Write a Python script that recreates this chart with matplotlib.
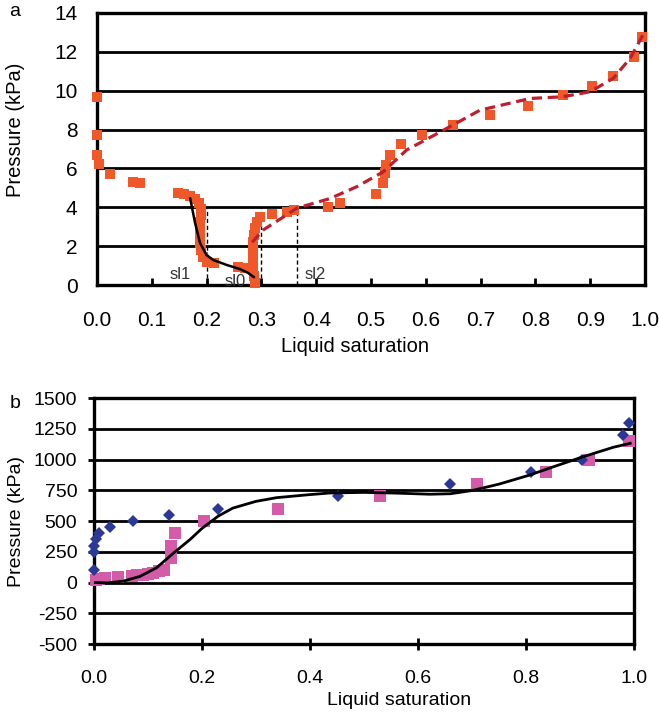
import matplotlib
matplotlib.use("Agg")
import matplotlib.pyplot as plt

plt.rcParams['font.family'] = ['Liberation Sans', 'DejaVu Sans']
plt.rcParams['axes.unicode_minus'] = False

# ---- panel a data ----
a_sat = [0.0, 0.0, 0.0, 0.003, 0.024, 0.066, 0.078,
         0.148, 0.159, 0.170, 0.179, 0.186, 0.190, 0.190, 0.188, 0.188, 0.188,
         0.188, 0.190, 0.193, 0.201, 0.213,
         0.257, 0.270,
         0.288, 0.286, 0.285, 0.285, 0.285, 0.285, 0.285, 0.286, 0.288, 0.292, 0.297,
         0.319, 0.347, 0.360, 0.422, 0.443,
         0.510, 0.522, 0.525, 0.527, 0.535, 0.555, 0.593, 0.650, 0.717, 0.787,
         0.850, 0.903, 0.942, 0.980, 0.995]
a_press = [9.7, 7.7, 6.7, 6.25, 5.7, 5.3, 5.23,
           4.73, 4.68, 4.58, 4.43, 4.22, 3.91, 3.60, 3.24, 2.88, 2.52,
           2.16, 1.80, 1.44, 1.18, 1.13,
           0.93, 0.87,
           0.10, 0.46, 0.77, 1.13, 1.49, 1.85, 2.21, 2.57, 2.93, 3.24, 3.50,
           3.65, 3.75, 3.85, 4.0, 4.2,
           4.7, 5.24, 5.74, 6.17, 6.7, 7.25, 7.7, 8.23, 8.75, 9.2,
           9.78, 10.24, 10.75, 11.75, 12.75]

# black fitted curve (drying branch)
a_fit1_sat = [0.170, 0.179, 0.188, 0.200, 0.212, 0.237, 0.261, 0.276, 0.286]
a_fit1_press = [4.45, 3.19, 2.16, 1.54, 1.29, 1.03, 0.82, 0.62, 0.41]

# red dashed fitted curve
a_fit2_sat = [0.283, 0.303, 0.340, 0.365, 0.425, 0.474, 0.522, 0.565, 0.608,
              0.638, 0.699, 0.790, 0.850, 0.900, 0.942, 0.973, 0.996]
a_fit2_press = [2.2, 2.83, 3.5, 3.96, 4.45, 5.06, 5.82, 6.95, 7.6,
                8.06, 9.0, 9.6, 9.69, 9.95, 10.64, 11.67, 12.86]

sl_names = ["sl1", "sl0", "sl2"]
sl_pos = [0.2, 0.3, 0.365]
sl_top = 4.0

# ---- panel b data ----
b_blue_sat = [0.0, 0.0, 0.0, 0.003, 0.01, 0.03, 0.072, 0.139, 0.23,
              0.452, 0.66, 0.81, 0.904, 0.979, 0.991]
b_blue_press = [100, 250, 300, 350, 400, 450, 500, 550, 600,
                700, 800, 900, 1000, 1200, 1300]

b_pink_sat = [0.003, 0.01, 0.02, 0.045, 0.07, 0.08, 0.09, 0.10, 0.11, 0.12, 0.13,
              0.142, 0.142, 0.15, 0.204, 0.34, 0.53, 0.709, 0.838, 0.917, 0.991]
b_pink_press = [20, 25, 35, 45, 55, 60, 65, 72, 80, 90, 100,
                200, 300, 400, 500, 600, 700, 800, 900, 1000, 1150]

b_fit_sat = [0.0, 0.025, 0.055, 0.085, 0.116, 0.146, 0.178, 0.2, 0.23, 0.257,
             0.3, 0.338, 0.4, 0.437, 0.5, 0.56, 0.622, 0.66, 0.7, 0.75,
             0.807, 0.85, 0.906, 0.962, 0.993]
b_fit_press = [0, -3, 12, 50, 120, 235, 350, 440, 540, 605,
               660, 690, 715, 728, 733, 727, 718, 722, 748, 800,
               874, 940, 1023, 1100, 1132]

orange = "#F0582A"
darkred = "#BE1E2D"
blue = "#2B3896"
pink = "#D45BA8"

fig = plt.figure(figsize=(6.59, 7.14), dpi=100)

# ================= panel a =================
ax = fig.add_axes([0.1472, 0.6008, 0.8316, 0.381])
for yv in range(2, 14, 2):
    ax.axhline(yv, color="black", lw=2.0, zorder=1)
for name, xv in zip(sl_names, sl_pos):
    ax.plot([xv, xv], [0, sl_top], color="black", lw=1.0, dashes=(3, 2), zorder=2)
ax.plot(a_sat, a_press, "s", color=orange, ms=7, mew=0, zorder=3, clip_on=False)
ax.plot(a_fit1_sat, a_fit1_press, color="black", lw=1.8, zorder=4)
ax.plot(a_fit2_sat, a_fit2_press, color=darkred, lw=2.3, dashes=(3.2, 1.8), zorder=4)
ax.text(0.152, 0.55, "sl1", fontsize=12, color="#333333", ha="center", va="center")
ax.text(0.252, 0.2, "sl0", fontsize=12, color="#333333", ha="center", va="center")
ax.text(0.398, 0.55, "sl2", fontsize=12, color="#333333", ha="center", va="center")

ax.set_xlim(0, 1.0)
ax.set_ylim(0, 14)
ax.set_xticks([i / 10 for i in range(11)])
ax.set_xticklabels(["%.1f" % (i / 10) for i in range(11)])
ax.set_yticks(range(0, 15, 2))
for s in ax.spines.values():
    s.set_linewidth(2.4)
ax.tick_params(axis="x", direction="in", length=5, width=2, labelsize=15, pad=19)
ax.tick_params(axis="y", length=0, labelsize=15, pad=14)
ax.set_xlabel("Liquid saturation", fontsize=14.5)
ax.xaxis.set_label_coords(0.47, -0.19)
ax.set_ylabel("Pressure (kPa)", fontsize=14.5)
ax.yaxis.set_label_coords(-0.131, 0.57)
fig.text(15 / 659, 1 - 12 / 714, "a", fontsize=14, ha="center", va="center")

# ================= panel b =================
bx = fig.add_axes([0.1426, 0.098, 0.8194, 0.3445])
for yv in range(-250, 1500, 250):
    bx.axhline(yv, color="black", lw=2.0, zorder=1)
bx.plot(b_pink_sat, b_pink_press, "s", color=pink, ms=8, mew=0, zorder=3, clip_on=False)
bx.plot(b_blue_sat, b_blue_press, "D", color=blue, ms=6, mew=0, zorder=4, clip_on=False)
bx.plot(b_fit_sat, b_fit_press, color="black", lw=2.0, zorder=5)

bx.set_xlim(0, 1.0)
bx.set_ylim(-500, 1500)
bx.set_xticks([0, 0.2, 0.4, 0.6, 0.8, 1.0])
bx.set_xticklabels(["0.0", "0.2", "0.4", "0.6", "0.8", "1.0"])
bx.set_yticks(range(-500, 1501, 250))
for s in bx.spines.values():
    s.set_linewidth(2.4)
bx.tick_params(axis="x", direction="inout", length=8, width=2, labelsize=14, pad=15)
bx.tick_params(axis="y", direction="out", length=4.5, width=2, labelsize=14, pad=7.5)
bx.set_xlabel("Liquid saturation", fontsize=14)
bx.xaxis.set_label_coords(0.565, -0.195)
bx.set_ylabel("Pressure (kPa)", fontsize=14)
bx.yaxis.set_label_coords(-0.128, 0.5)
fig.text(15 / 659, 1 - 403 / 714, "b", fontsize=14, ha="center", va="center")

fig.savefig("out.png", dpi=100)
